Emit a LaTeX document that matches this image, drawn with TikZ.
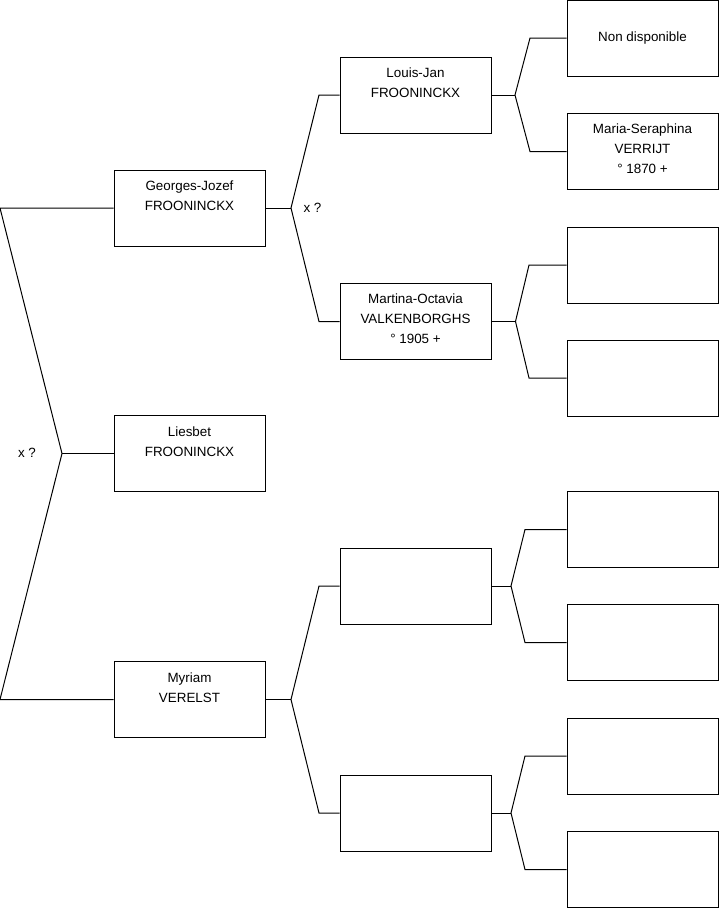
\documentclass[tikz,border=0pt]{standalone}
\usepackage{fontspec}
\setmainfont{Liberation Sans}
\begin{document}
\begin{tikzpicture}[x=1pt,y=-1pt,
  pbox/.style={draw, line width=1pt, minimum width=151pt, minimum height=76pt, inner sep=0pt},
  ptext/.style={anchor=north, align=center, inner sep=0pt, font=\fontsize{13.4}{20}\selectfont},
  plabel/.style={inner sep=0pt, font=\fontsize{13.4}{20}\selectfont},
  link/.style={line width=1pt, line join=miter}]
\useasboundingbox (0,0) rectangle (719,908);
% column 1
\node[pbox] (g) at (189.5,208) {};
\node[pbox] (l) at (189.5,453.5) {};
\node[pbox] (m) at (189.5,699.5) {};
\node[ptext] (gt) at ([yshift=-11.5pt]g.north) {Georges-Jozef\\FROONINCKX};
\node[ptext] (lt) at ([yshift=-11.5pt]l.north) {Liesbet\\FROONINCKX};
\node[ptext] (mt) at ([yshift=-11.5pt]m.north) {Myriam\\VERELST};
% column 2
\node[pbox] (lj) at (415.5,95) {};
\node[pbox] (mo) at (415.5,321.5) {};
\node[pbox] (e1) at (415.5,586) {};
\node[pbox] (e2) at (415.5,813) {};
\node[ptext] (ljt) at ([yshift=-11pt]lj.north) {Louis-Jan\\FROONINCKX};
\node[ptext] (mot) at ([yshift=-10.5pt]mo.north) {Martina-Octavia\\VALKENBORGHS\\° 1905 +};
% column 3
\node[pbox] (p1) at (642.5,38) {};
\node[pbox] (p2) at (642.5,151.5) {};
\node[pbox] (p3) at (642.5,265) {};
\node[pbox] (p4) at (642.5,378) {};
\node[pbox] (p5) at (642.5,529.5) {};
\node[pbox] (p6) at (642.5,642.5) {};
\node[pbox] (p7) at (642.5,756) {};
\node[pbox] (p8) at (642.5,869.5) {};
\node[plabel] (p1t) at (p1.center) {Non disponible};
\node[ptext] (p2t) at ([yshift=-11pt]p2.north) {Maria-Seraphina\\VERRIJT\\° 1870 +};
% labels
\node[plabel] (x1) at (27,453) {x ?};
\node[plabel] (x2) at (312.5,208) {x ?};
% root fork
\coordinate (rA) at (0,208);
\coordinate (rM) at (62,453.5);
\coordinate (rB) at (0,699.5);
\draw[link] (g.west) -- (rA) -- (rM) -- (rB) -- (m.west);
\draw[link] (rM) -- (l.west);
% Georges fork
\coordinate (gj) at (291,208);
\coordinate (gu) at (319,95);
\coordinate (gd) at (319,321.5);
\draw[link] (g.east) -- (gj);
\draw[link] (lj.west) -- (gu) -- (gj) -- (gd) -- (mo.west);
% Myriam fork
\coordinate (mj) at (291,699.5);
\coordinate (mu) at (319,586);
\coordinate (md) at (319,813);
\draw[link] (m.east) -- (mj);
\draw[link] (e1.west) -- (mu) -- (mj) -- (md) -- (e2.west);
% Louis-Jan fork
\coordinate (ljj) at (515,95);
\coordinate (lju) at (530,38);
\coordinate (ljd) at (530,151.5);
\draw[link] (lj.east) -- (ljj);
\draw[link] (p1.west) -- (lju) -- (ljj) -- (ljd) -- (p2.west);
% Martina fork
\coordinate (moj) at (515.5,321.5);
\coordinate (mou) at (529,265);
\coordinate (mod) at (529,378);
\draw[link] (mo.east) -- (moj);
\draw[link] (p3.west) -- (mou) -- (moj) -- (mod) -- (p4.west);
% empty fork 1
\coordinate (e1j) at (511,586);
\coordinate (e1u) at (525,529.5);
\coordinate (e1d) at (525,642.5);
\draw[link] (e1.east) -- (e1j);
\draw[link] (p5.west) -- (e1u) -- (e1j) -- (e1d) -- (p6.west);
% empty fork 2
\coordinate (e2j) at (511,813);
\coordinate (e2u) at (525,756);
\coordinate (e2d) at (525,869.5);
\draw[link] (e2.east) -- (e2j);
\draw[link] (p7.west) -- (e2u) -- (e2j) -- (e2d) -- (p8.west);
\end{tikzpicture}
\end{document}
